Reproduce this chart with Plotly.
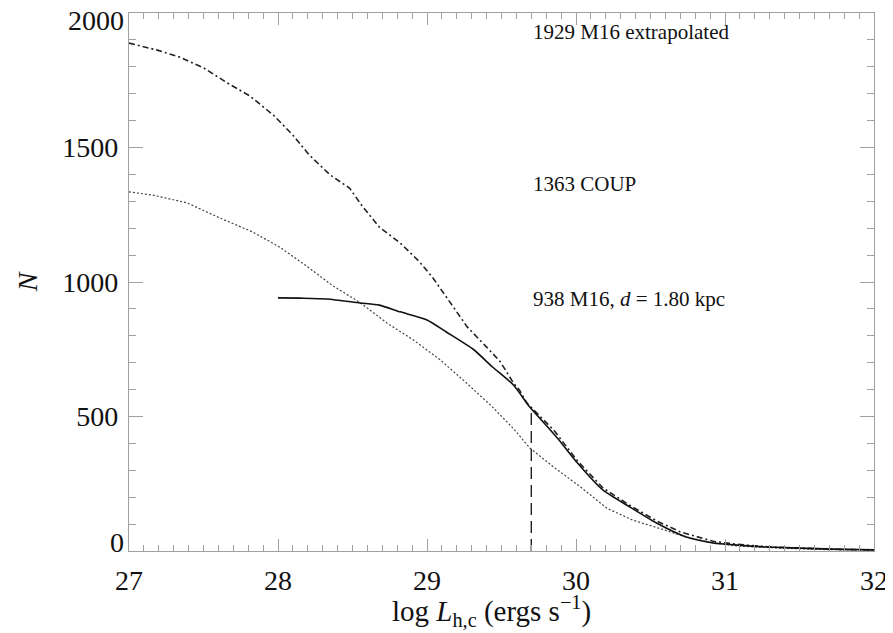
import plotly.graph_objects as go

# M16 extrapolated (dash-dot)
logL_extrap = [27.0, 27.19, 27.34, 27.50, 27.66, 27.81, 27.97, 28.10, 28.21, 28.35, 28.48, 28.57,
               28.68, 28.82, 28.95, 29.04, 29.13, 29.27, 29.40, 29.49, 29.58, 29.62, 29.67, 29.85,
               30.01, 30.18, 30.36, 30.54, 30.70, 30.92, 31.08, 31.30, 31.70, 32.0]
N_extrap = [1888, 1862, 1836, 1796, 1740, 1692, 1620, 1546, 1472, 1398, 1349, 1279,
            1204, 1145, 1075, 1015, 944, 833, 758, 705, 625, 599, 550, 450,
            335, 235, 170, 112, 71, 36, 25, 15, 7, 4]

# COUP (dotted)
logL_coup = [27.0, 27.16, 27.39, 27.61, 27.83, 28.01, 28.19, 28.37, 28.55, 28.73, 28.91, 29.09,
             29.27, 29.44, 29.58, 29.69, 29.85, 30.03, 30.21, 30.38, 30.56, 30.74, 30.92, 31.1,
             31.4, 31.7, 32.0]
N_coup = [1335, 1323, 1294, 1238, 1186, 1130, 1060, 985, 924, 848, 784, 710,
          622, 535, 455, 383, 312, 238, 158, 115, 84, 52, 30, 18,
          10, 5, 3]

# M16, d = 1.80 kpc (solid)
logL_m16 = [28.0, 28.15, 28.33, 28.55, 28.68, 28.82, 29.0, 29.13, 29.31, 29.44, 29.58, 29.69,
            29.81, 29.89, 30.01, 30.18, 30.36, 30.54, 30.74, 30.92, 31.08, 31.28, 31.72, 32.0]
N_m16 = [941, 940, 937, 922, 914, 889, 859, 814, 750, 684, 617, 535,
         461, 410, 327, 227, 164, 104, 52, 30, 22, 15, 7, 4]

# completeness limit (vertical dashed)
limit_x = [29.7, 29.7]
limit_y = [0, 535]

label_counts = [1929, 1363, 938]
label_texts = ["1929 M16 extrapolated", "1363 COUP", "938 M16, <i>d</i> = 1.80 kpc"]

x_ticks = [27, 28, 29, 30, 31, 32]
y_ticks = [0, 500, 1000, 1500, 2000]
y_tick_text = ["0", "500", "1000", "1500", "2000"]

x_title = "log <i>L</i><sub>h,c</sub> (ergs s<sup>\u22121</sup>)"
y_title = "<i>N</i>"

FONT = "Liberation Serif"

fig = go.Figure()
fig.add_trace(go.Scatter(x=logL_extrap, y=N_extrap, mode="lines",
                         line=dict(color="#222", width=1.6, dash="6px,3px,2px,3px")))
fig.add_trace(go.Scatter(x=logL_coup, y=N_coup, mode="lines",
                         line=dict(color="#444", width=1.2, dash="2px,2px")))
fig.add_trace(go.Scatter(x=logL_m16, y=N_m16, mode="lines", line_shape="spline",
                         line=dict(color="#111", width=1.6, smoothing=0.6)))
fig.add_trace(go.Scatter(x=limit_x, y=limit_y, mode="lines",
                         line=dict(color="#222", width=1.4, dash="12px,6px")))

for c, t in zip(label_counts, label_texts):
    fig.add_annotation(x=limit_x[0], y=c, text=t, showarrow=False, xanchor="left",
                       yanchor="middle", xshift=0,
                       font=dict(family=FONT, size=21, color="#111"))

fig.add_annotation(xref="paper", yref="paper", x=0.486, y=0, yshift=-60,
                   xanchor="center", yanchor="middle", showarrow=False,
                   text=x_title, font=dict(family=FONT, size=29, color="#111"))

# end tick labels are nudged inward (as in the original IDL plot)
shown_ticks = [t if v not in (y_ticks[0], y_ticks[-1]) else "" for v, t in zip(y_ticks, y_tick_text)]
for v, t, dy in [(y_ticks[0], y_tick_text[0], 9), (y_ticks[-1], y_tick_text[-1], -7)]:
    fig.add_annotation(xref="paper", x=0, y=v, text=t, showarrow=False, xanchor="right",
                       yanchor="middle", xshift=-3, yshift=dy,
                       font=dict(family=FONT, size=28, color="#111"))

axis_common = dict(showline=True, linecolor="#a0a0a0", linewidth=1.2, mirror="allticks",
                   ticks="inside", tickcolor="#a0a0a0", showgrid=False, zeroline=False,
                   ticklabeloverflow="allow", automargin=False,
                   tickfont=dict(family=FONT, size=28, color="#111"))

fig.update_xaxes(range=[27, 32], tickvals=x_ticks, ticklen=12,
                 minor=dict(dtick=0.1, ticklen=6, tickcolor="#a0a0a0", ticks="inside"),
                 ticklabelstandoff=4,
                 **axis_common)
fig.update_yaxes(range=[0, 2000], tickvals=y_ticks, ticktext=shown_ticks, ticklen=14,
                 minor=dict(dtick=100, ticklen=7, tickcolor="#a0a0a0", ticks="inside"),
                 ticklabelstandoff=4,
                 title=dict(text=y_title, font=dict(family=FONT, size=28, color="#111"),
                            standoff=16),
                 **axis_common)

# page body adds an 8px margin, so the figure is sized to fit inside the window
fig.update_layout(width=885, height=625, showlegend=False,
                  margin=dict(l=121, r=19, t=5, b=82),
                  plot_bgcolor="white", paper_bgcolor="white")

fig.write_html("out.html")
